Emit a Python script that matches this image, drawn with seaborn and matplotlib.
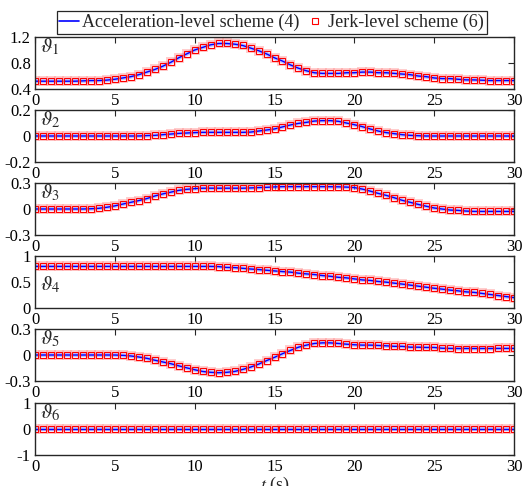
import numpy as np
import pandas as pd
import matplotlib
matplotlib.use("Agg")
import matplotlib.pyplot as plt
import seaborn as sns
from matplotlib.lines import Line2D

sns.set_theme(style="white")
plt.rcParams['font.family'] = ['Liberation Serif', 'DejaVu Serif']
plt.rcParams['mathtext.fontset'] = 'stix'

# time samples (s), markers every 0.5 s
t = [i * 0.5 for i in range(61)]

theta1 = [0.52, 0.52, 0.52, 0.52, 0.52, 0.52, 0.525, 0.53, 0.53,
          0.537, 0.55, 0.57, 0.59, 0.62, 0.66, 0.70, 0.75, 0.81, 0.88,
          0.94, 1.00, 1.04, 1.08, 1.10, 1.10, 1.09, 1.07, 1.03, 0.99,
          0.94, 0.88, 0.83, 0.77, 0.72, 0.68, 0.65, 0.64, 0.64, 0.64,
          0.65, 0.65, 0.66, 0.66, 0.65, 0.65, 0.64, 0.63, 0.62, 0.60,
          0.59, 0.57, 0.56, 0.56, 0.55, 0.54, 0.54, 0.535, 0.53, 0.53,
          0.53, 0.53]
theta2 = [0, 0, 0, 0, 0, 0, 0, 0, 0, 0, 0, 0, 0, 0,
          0.003, 0.005, 0.01, 0.015, 0.02, 0.023, 0.026,
          0.028, 0.028, 0.028, 0.028, 0.028, 0.028,
          0.03, 0.038, 0.046, 0.054, 0.07, 0.085, 0.097, 0.105, 0.115, 0.118,
          0.118, 0.113, 0.10, 0.087, 0.072, 0.054, 0.038, 0.026, 0.018, 0.01,
          0.005, 0.002,
          0, 0, 0, 0, 0, 0, 0, 0, 0, 0, 0, 0]
theta3 = [0, 0, 0, 0, 0, 0, 0,
          0.003, 0.008, 0.02, 0.036, 0.057, 0.077, 0.097, 0.12, 0.15, 0.174,
          0.194, 0.215, 0.227, 0.235,
          0.24, 0.24, 0.24, 0.24, 0.24, 0.24,
          0.243, 0.247, 0.25, 0.255,
          0.258, 0.258, 0.258, 0.258, 0.258, 0.258,
          0.257, 0.256, 0.253, 0.247, 0.23, 0.206, 0.18, 0.157, 0.13, 0.10,
          0.077, 0.053, 0.032, 0.012, 0, -0.012, -0.016, -0.024,
          -0.028, -0.028, -0.028, -0.028, -0.028, -0.028]
theta4 = [0.80, 0.80, 0.80, 0.80, 0.80, 0.80, 0.80, 0.80, 0.80, 0.80,
          0.80, 0.80, 0.80, 0.80, 0.80, 0.80, 0.80, 0.80, 0.80, 0.80,
          0.80, 0.80, 0.80, 0.796, 0.78, 0.777, 0.764, 0.75, 0.74, 0.726,
          0.713, 0.70, 0.69, 0.67, 0.656, 0.643, 0.624, 0.61, 0.59, 0.58,
          0.56, 0.54, 0.53, 0.51, 0.497, 0.478, 0.46, 0.44, 0.42, 0.40,
          0.38, 0.363, 0.344, 0.33, 0.31, 0.30, 0.28, 0.26, 0.24, 0.22,
          0.20]
theta5 = [0, 0, 0, 0, 0, 0, 0, 0, 0, 0,
          0, -0.004, -0.011, -0.023, -0.038, -0.06, -0.08, -0.10, -0.125, -0.148,
          -0.17, -0.19, -0.20, -0.205, -0.20, -0.19, -0.167, -0.14, -0.106, -0.065,
          -0.027, 0.015, 0.053, 0.09, 0.114, 0.133, 0.14, 0.14, 0.133, 0.125,
          0.118, 0.114, 0.114, 0.11, 0.106, 0.10, 0.10, 0.09, 0.09, 0.087,
          0.087, 0.078, 0.076, 0.075, 0.075, 0.075, 0.075, 0.075, 0.076, 0.076,
          0.076]
theta6 = [0.0] * 61

series = [theta1, theta2, theta3, theta4, theta5, theta6]
names = [r'$\vartheta_1$', r'$\vartheta_2$', r'$\vartheta_3$',
         r'$\vartheta_4$', r'$\vartheta_5$', r'$\vartheta_6$']
ylims = [(0.4, 1.2), (-0.2, 0.2), (-0.3, 0.3), (0, 1), (-0.3, 0.3), (-1, 1)]
yticks = [[0.4, 0.8, 1.2], [-0.2, 0, 0.2], [-0.3, 0, 0.3],
          [0, 0.5, 1], [-0.3, 0, 0.3], [-1, 0, 1]]
ytlabels = [['0.4', '0.8', '1.2'], ['-0.2', '0', '0.2'], ['-0.3', '0', '0.3'],
            ['0', '0.5', '1'], ['-0.3', '0', '0.3'], ['-1', '0', '1']]
xticks = [0, 5, 10, 15, 20, 25, 30]
label_y = [0.80, 0.80, 0.80, 0.44, 0.80, 0.80]

W, H = 525, 486
fig = plt.figure(figsize=(W / 100, H / 100), dpi=100)
tops = [37, 110, 183, 256, 329, 403]
ah = 52
left, right = 35, 514

for k in range(6):
    top = tops[k]
    ax = fig.add_axes([left / W, 1 - (top + ah) / H, (right - left) / W, ah / H])
    df = pd.DataFrame({'t': t, 'v': series[k]})
    sns.lineplot(data=df, x='t', y='v', ax=ax, color='#8c8cff', lw=3.0, alpha=0.55)
    sns.lineplot(data=df, x='t', y='v', ax=ax, color='#0000ff', lw=1.0)
    sns.lineplot(data=df, x='t', y='v', ax=ax, linestyle='none', marker='s',
                 markersize=5.2, markerfacecolor='none', markeredgecolor='#ff9090',
                 markeredgewidth=1.4, alpha=0.45)
    sns.lineplot(data=df, x='t', y='v', ax=ax, linestyle='none', marker='s',
                 markersize=3.8, markerfacecolor='none', markeredgecolor='#ff0000',
                 markeredgewidth=0.8)
    ax.set_xlim(0, 30)
    ax.set_ylim(*ylims[k])
    ax.set_xticks(xticks)
    ax.set_xticklabels([str(x) for x in xticks])
    ax.set_yticks(yticks[k])
    ax.set_yticklabels(ytlabels[k])
    ax.set_xlabel('')
    ax.set_ylabel('')
    ax.tick_params(direction='in', length=4, width=0.8, colors='#262626',
                   labelsize=12, top=True, right=True, pad=3, labelcolor='black')
    for s in ax.spines.values():
        s.set_visible(True)
        s.set_color('#262626')
        s.set_linewidth(1.0)
    ax.text(0.01, label_y[k], names[k], transform=ax.transAxes,
            fontsize=15, va='center', ha='left')

fig.text(0.523, 1 - 490 / H, r'$t$ (s)', ha='center', va='baseline', fontsize=13)

handles = [Line2D([], [], color='#0000ff', lw=1.2),
           Line2D([], [], linestyle='none', marker='s', markersize=3.8,
                  markerfacecolor='none', markeredgecolor='#ff0000', markeredgewidth=0.8)]
leg = fig.legend(handles, ['Acceleration-level scheme (4)', 'Jerk-level scheme (6)'],
                 loc='center', bbox_to_anchor=(271.5 / W, 1 - 22.5 / H), ncol=2,
                 fontsize=13, frameon=True, fancybox=False, framealpha=1,
                 edgecolor='#262626', handlelength=1.1, handletextpad=0.15,
                 columnspacing=0.35, borderpad=0.15, borderaxespad=0)
leg.get_frame().set_linewidth(0.9)

fig.savefig('out.png', dpi=100)
